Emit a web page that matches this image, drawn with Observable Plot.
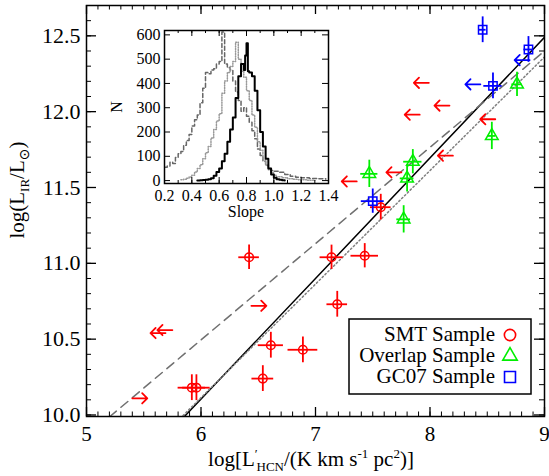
<!DOCTYPE html>
<html><head><meta charset="utf-8">
<script src="https://cdn.jsdelivr.net/npm/d3@7"></script>
<script src="https://cdn.jsdelivr.net/npm/@observablehq/plot@0.6"></script>
<style>
body{margin:0;background:#fff;}
#wrap{position:relative;width:549px;height:476px;font-family:"Liberation Serif","Times New Roman",Times,"DejaVu Serif",serif;}
#wrap svg{position:absolute;left:0;top:0;}
#wrap svg text{font-family:"Liberation Serif","Times New Roman",Times,"DejaVu Serif",serif;}
</style></head><body><div id="wrap"></div>
<script>
// ---------- main data ----------
const seriesNames = ["SMT Sample", "Overlap Sample", "GC07 Sample"];
const seriesColors = ["#ff0000", "#00ee00", "#0000ff"];

// SMT detections
const smtX = [6.42, 7.14, 7.43, 7.19, 6.61, 6.89, 6.54, 5.92, 5.96, 7.57];
const smtY = [11.04, 11.04, 11.05, 10.73, 10.46, 10.43, 10.24, 10.18, 10.18, 11.37];
const smtXErr = [0.09, 0.10, 0.12, 0.09, 0.11, 0.13, 0.095, 0.12, 0.12, 0.09];
const smtYErr = [0.08, 0.08, 0.08, 0.085, 0.085, 0.085, 0.085, 0.085, 0.085, 0.085];
// SMT upper limits in L'HCN (arrows to the left)
const smtUpX = [7.99, 8.17, 7.91, 8.57, 8.20, 7.75, 7.36, 5.75, 5.69];
const smtUpY = [12.19, 12.04, 11.98, 11.95, 11.71, 11.60, 11.54, 10.56, 10.54];
// SMT lower limits (arrows to the right)
const smtLoX = [6.44, 5.40];
const smtLoY = [10.72, 10.11];

// Overlap sample
const ovX = [7.47, 7.85, 7.80, 7.77, 8.54, 8.76];
const ovY = [11.59, 11.67, 11.56, 11.29, 11.84, 12.18];
const ovXErr = [0.075, 0.08, 0.06, 0.06, 0.035, 0.045];
const ovYErr = [0.09, 0.08, 0.09, 0.09, 0.09, 0.08];

// GC07 sample
const gcX = [8.46, 8.86, 8.55, 7.50];
const gcY = [12.54, 12.41, 12.17, 11.41];
const gcXErr = [0.03, 0.04, 0.08, 0.10];
const gcYErr = [0.085, 0.085, 0.085, 0.08];
const gcUpX = [8.87, 8.44];
const gcUpY = [12.34, 12.18];

// fitted relations
const fitSlope = [0.795, 0.635, 0.749];
const fitIntercept = [5.335, 6.685, 5.62];
const fitStroke = ["#000000", "#707070", "#808080"];
const fitDash = [null, "9,6", "1.5,2.5"];

// axes
const xDomain = [5, 9];
const yDomain = [9.99, 12.7];
const xTicks = [5, 6, 7, 8, 9];
const yTicks = [10.0, 10.5, 11.0, 11.5, 12.0, 12.5];

// ---------- inset data (slope histograms) ----------
const solidBin = [0.44,0.46,0.48,0.50,0.52,0.54,0.56,0.58,0.60,0.62,0.64,0.66,0.68,0.70,0.72,0.74,0.76,0.78,0.79,0.80,0.81,0.82,0.84,0.86,0.88,0.90,0.92,0.94,0.96,0.98,1.00,1.02,1.04,1.06,1.08];
const solidN   = [0,1,2,3,6,10,20,35,50,80,110,160,210,260,340,430,480,455,515,565,450,445,430,370,290,200,140,90,50,25,12,6,3,1,0];

const dotBin = [0.32,0.34,0.36,0.38,0.40,0.42,0.44,0.46,0.48,0.50,0.52,0.54,0.56,0.58,0.60,0.62,0.64,0.66,0.68,0.70,0.72,0.74,0.76,0.78,0.80,0.82,0.84,0.86,0.88,0.90,0.92,0.94,0.96,0.98,1.00,1.02,1.06,1.10,1.14,1.18,1.24,1.30];
const dotN   = [3,5,10,15,22,35,50,65,90,115,140,175,210,245,275,360,410,445,470,490,570,500,450,425,370,330,270,220,160,125,85,65,45,32,22,16,12,8,5,3,1,0];

const dashBin = [0.20,0.22,0.24,0.26,0.28,0.30,0.32,0.34,0.36,0.38,0.40,0.42,0.44,0.46,0.48,0.50,0.52,0.54,0.56,0.58,0.60,0.62,0.64,0.66,0.68,0.70,0.72,0.74,0.76,0.78,0.80,0.82,0.84,0.86,0.88,0.90,0.92,0.94,0.96,0.98,1.00,1.04,1.08,1.12,1.16,1.20,1.26,1.32,1.38];
const dashN   = [55,60,75,70,95,110,120,145,165,190,225,250,270,320,380,445,440,455,460,480,490,612,480,465,455,410,365,330,285,300,265,240,205,172,130,103,80,62,50,42,38,34,25,18,14,12,9,8,6];

const insetXDomain = [0.2, 1.4];
const insetYDomain = [-12, 618];
const insetXTicks = [0.2, 0.4, 0.6, 0.8, 1.0, 1.2, 1.4];
const insetYTicks = [0, 100, 200, 300, 400, 500, 600];

// ---------- build ----------
const FONT = '"Liberation Serif", "Times New Roman", Times, "DejaVu Serif", serif';
const W = 549, H = 476;
const mL = 86, mR = 5, mT = 5, mB = 60;
const fW = W - mL - mR, fH = H - mT - mB;

function pts(xs, ys, xe, ye) {
  return xs.map((x, i) => ({x, y: ys[i], xe: xe ? xe[i] : 0, ye: ye ? ye[i] : 0}));
}
const smt = pts(smtX, smtY, smtXErr, smtYErr);
const ov = pts(ovX, ovY, ovXErr, ovYErr);
const gc = pts(gcX, gcY, gcXErr, gcYErr);
const smtUp = pts(smtUpX, smtUpY);
const smtLo = pts(smtLoX, smtLoY);
const gcUp = pts(gcUpX, gcUpY);

function errMarks(data, color) {
  return [
    Plot.ruleY(data, {y: "y", x1: d => d.x - d.xe, x2: d => d.x + d.xe, stroke: color, strokeWidth: 1.8}),
    Plot.ruleX(data, {x: "x", y1: d => d.y - d.ye, y2: d => d.y + d.ye, stroke: color, strokeWidth: 1.8})
  ];
}
function arrowMarks(data, color, rot) {
  return Plot.vector(data, {x: "x", y: "y", rotate: rot, length: 15, anchor: "start", shape: "arrow", r: 6, stroke: color, strokeWidth: 1.8});
}

const xMinor = d3.range(5, 9.0001, 0.1).map(v => +v.toFixed(2));
const yMinor = d3.range(10.0, 12.7001, 0.1).map(v => +v.toFixed(2));

const fitMarks = fitSlope.map((s, i) =>
  Plot.line(xDomain.map(x => ({x, y: s * x + fitIntercept[i]})), {
    x: "x", y: "y", stroke: fitStroke[i], strokeWidth: 1.5,
    strokeDasharray: fitDash[i] || undefined, clip: true
  })
);

const main = Plot.plot({
  width: W, height: H,
  marginLeft: mL, marginRight: mR, marginTop: mT, marginBottom: mB,
  x: {domain: xDomain}, y: {domain: yDomain},
  style: {fontFamily: FONT, fontSize: "22px", color: "black", background: "white", overflow: "visible"},
  marks: [
    ...fitMarks,
    ...errMarks(smt, seriesColors[0]),
    ...errMarks(ov, seriesColors[1]),
    ...errMarks(gc, seriesColors[2]),
    Plot.dot(smt, {x: "x", y: "y", symbol: "circle", r: 4.3, stroke: seriesColors[0], strokeWidth: 1.5, fill: "none"}),
    Plot.dot(ov, {x: "x", y: "y", symbol: "triangle", r: 4.7, stroke: seriesColors[1], strokeWidth: 1.5, fill: "none"}),
    Plot.dot(gc, {x: "x", y: "y", symbol: "square", r: 4.7, stroke: seriesColors[2], strokeWidth: 1.5, fill: "none"}),
    arrowMarks(smtUp, seriesColors[0], 270),
    arrowMarks(smtLo, seriesColors[0], 90),
    arrowMarks(gcUp, seriesColors[2], 270),
    // inward ticks on all four sides
    Plot.ruleX(xTicks, {x: d => d, insetTop: fH - 9, strokeWidth: 1.3}),
    Plot.ruleX(xTicks, {x: d => d, insetBottom: fH - 9, strokeWidth: 1.3}),
    Plot.ruleX(xMinor, {x: d => d, insetTop: fH - 4.5, strokeWidth: 1}),
    Plot.ruleX(xMinor, {x: d => d, insetBottom: fH - 4.5, strokeWidth: 1}),
    Plot.ruleY(yTicks, {y: d => d, insetRight: fW - 10, strokeWidth: 1.3}),
    Plot.ruleY(yTicks, {y: d => d, insetLeft: fW - 10, strokeWidth: 1.3}),
    Plot.ruleY(yMinor, {y: d => d, insetRight: fW - 5, strokeWidth: 1}),
    Plot.ruleY(yMinor, {y: d => d, insetLeft: fW - 5, strokeWidth: 1}),
    Plot.axisX(xTicks, {tickSize: 0, tickPadding: 10, tickFormat: d3.format("d"), label: null, fontSize: 21}),
    Plot.axisY(yTicks, {tickSize: 0, tickPadding: 6, tickFormat: d3.format(".1f"), label: null, fontSize: 22}),
    Plot.frame({strokeWidth: 1.5})
  ]
});

const svg = d3.select(main);
// x title
const xt = svg.append("text").attr("x", 311).attr("y", 466).attr("text-anchor", "middle")
  .style("font-family", FONT).attr("font-size", 21).attr("fill", "black");
xt.append("tspan").text("log[L");
xt.append("tspan").attr("font-size", 13).attr("dy", -8).text("\u2032");
xt.append("tspan").attr("font-size", 13).attr("dx", -1).attr("dy", 13).text("HCN");
xt.append("tspan").attr("dy", -5).text("/(K km s");
xt.append("tspan").attr("font-size", 13).attr("dy", -8).text("-1");
xt.append("tspan").attr("dy", 8).text(" pc");
xt.append("tspan").attr("font-size", 13).attr("dy", -8).text("2");
xt.append("tspan").attr("dy", 8).text(")]");
// y title
const yt = svg.append("text").attr("transform", "translate(24,190) rotate(-90)").attr("text-anchor", "middle")
  .style("font-family", FONT).attr("font-size", 21).attr("fill", "black");
yt.append("tspan").text("log(L");
yt.append("tspan").attr("font-size", 13).attr("dy", 5).text("IR");
yt.append("tspan").attr("dy", -5).text("/L");
yt.append("tspan").attr("font-size", 14).attr("dy", 5).style("font-family", "DejaVu Sans").text("\u2299");
yt.append("tspan").attr("dy", -5).text(")");

// legend
const lg = svg.append("g");
lg.append("rect").attr("x", 349).attr("y", 319).attr("width", 182).attr("height", 75)
  .attr("fill", "white").attr("stroke", "black").attr("stroke-width", 1.5);
const rowY = [341, 362, 383];
seriesNames.forEach((name, i) => {
  lg.append("text").attr("x", 495).attr("y", rowY[i]).attr("text-anchor", "end")
    .style("font-family", FONT).attr("font-size", 21).attr("fill", "black").text(name);
  const cy = rowY[i] - 6, cx = 510;
  const sym = [d3.symbolCircle, d3.symbolTriangle, d3.symbolSquare][i];
  const size = [100, 90, 120][i];
  lg.append("path").attr("d", d3.symbol(sym, size)()).attr("transform", `translate(${cx},${cy})`)
    .attr("fill", "none").attr("stroke", seriesColors[i]).attr("stroke-width", 1.6);
});

document.getElementById("wrap").appendChild(main);

// ---------- inset ----------
const iLeft = 100, iTop = 0;
const iW = 238, iH = 230, imL = 64, imR = 10, imT = 30, imB = 47;
const ifW = iW - imL - imR, ifH = iH - imT - imB;
const hist = (bins, ns) => bins.map((b, i) => ({x: b, y: ns[i]}));
const iXMinor = d3.range(0.2, 1.4001, 0.1).map(v => +v.toFixed(2));

const inset = Plot.plot({
  width: iW, height: iH, marginLeft: imL, marginRight: imR, marginTop: imT, marginBottom: imB,
  x: {domain: insetXDomain}, y: {domain: insetYDomain},
  style: {fontFamily: FONT, fontSize: "16px", color: "black", background: "transparent", overflow: "visible"},
  marks: [
    Plot.line(hist(dashBin, dashN), {x: "x", y: "y", curve: "step-after", stroke: "#666", strokeWidth: 1.5, strokeDasharray: "4,2.5", clip: true}),
    Plot.line(hist(dotBin, dotN), {x: "x", y: "y", curve: "step-after", stroke: "#999", strokeWidth: 1.5, strokeDasharray: "1,1.5", clip: true}),
    Plot.line(hist(solidBin, solidN), {x: "x", y: "y", curve: "step-after", stroke: "black", strokeWidth: 2, clip: true}),
    Plot.ruleX(insetXTicks, {x: d => d, insetTop: ifH - 6, strokeWidth: 1}),
    Plot.ruleX(insetXTicks, {x: d => d, insetBottom: ifH - 6, strokeWidth: 1}),
    Plot.ruleX(iXMinor, {x: d => d, insetTop: ifH - 3, strokeWidth: 1}),
    Plot.ruleX(iXMinor, {x: d => d, insetBottom: ifH - 3, strokeWidth: 1}),
    Plot.ruleY(insetYTicks, {y: d => d, insetRight: ifW - 6, strokeWidth: 1}),
    Plot.ruleY(insetYTicks, {y: d => d, insetLeft: ifW - 6, strokeWidth: 1}),
    Plot.axisX(insetXTicks, {tickSize: 0, tickPadding: 6, tickFormat: d3.format(".1f"), label: null, fontSize: 16}),
    Plot.axisY(insetYTicks, {tickSize: 0, tickPadding: 4, tickFormat: d3.format("d"), label: null, fontSize: 16}),
    Plot.frame({strokeWidth: 1.5})
  ]
});
const isvg = d3.select(inset);
isvg.append("text").attr("x", imL + ifW / 2).attr("y", 217).attr("text-anchor", "middle")
  .style("font-family", FONT).attr("font-size", 16).attr("fill", "black").text("Slope");
isvg.append("text").attr("transform", `translate(${122 - iLeft},107) rotate(-90)`).attr("text-anchor", "middle")
  .style("font-family", FONT).attr("font-size", 16).attr("fill", "black").text("N");
inset.style.left = iLeft + "px";
inset.style.top = iTop + "px";
document.getElementById("wrap").appendChild(inset);
</script></body></html>
